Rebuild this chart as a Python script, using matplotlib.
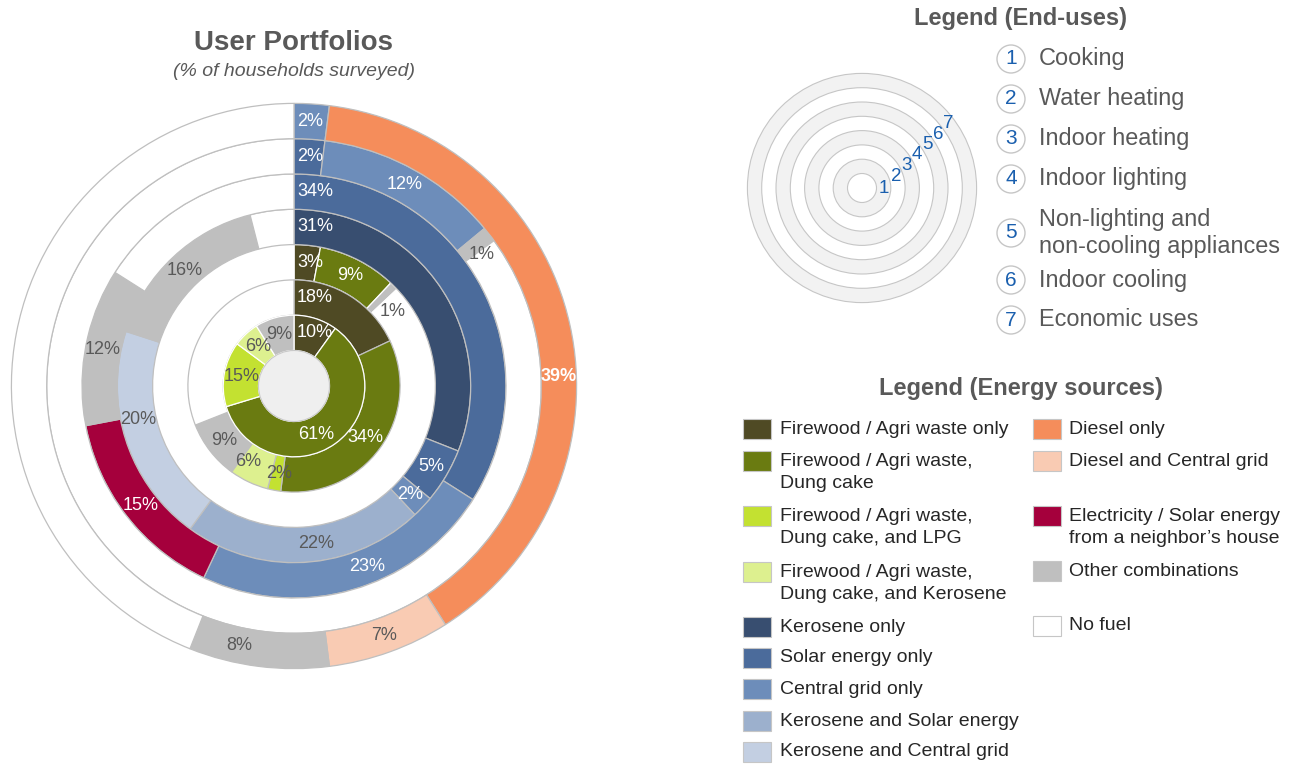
import numpy as np
import matplotlib
matplotlib.use("Agg")
import matplotlib.pyplot as plt
from matplotlib.patches import Circle, Rectangle

plt.rcParams['font.family'] = ['Liberation Sans', 'DejaVu Sans']

# ---------------- data ----------------
end_uses = ["Cooking", "Water heating", "Indoor heating", "Indoor lighting",
            "Non-lighting and\nnon-cooling appliances", "Indoor cooling", "Economic uses"]

sources = ["Firewood / Agri waste only",
           "Firewood / Agri waste,\nDung cake",
           "Firewood / Agri waste,\nDung cake, and LPG",
           "Firewood / Agri waste,\nDung cake, and Kerosene",
           "Kerosene only",
           "Solar energy only",
           "Central grid only",
           "Kerosene and Solar energy",
           "Kerosene and Central grid",
           "Diesel only",
           "Diesel and Central grid",
           "Electricity / Solar energy\nfrom a neighbor\u2019s house",
           "Other combinations",
           "No fuel"]

source_colors = ["#4f4a24", "#6a7b11", "#c3e131", "#ddf08f", "#384e70", "#4b6b9b",
                 "#6d8dba", "#9cb0cd", "#c3cfe2", "#f58d5b", "#f9cbb3", "#a5003c",
                 "#bfbfbf", "#ffffff"]

# rings, from the innermost (1 Cooking) to the outermost (7 Economic uses)
cooking_src = [0, 1, 2, 3, 12]
cooking_pct = [10, 61, 15, 6, 9]
water_src = [0, 1, 2, 3, 12, 13]
water_pct = [18, 34, 2, 6, 9, 31]
heating_src = [0, 1, 12, 13]
heating_pct = [3, 9, 1, 87]
lighting_src = [4, 5, 6, 7, 8, 12, 13]
lighting_pct = [31, 5, 2, 22, 20, 16, 4]
appliance_src = [5, 6, 11, 12, 13]
appliance_pct = [34, 23, 15, 12, 16]
cooling_src = [5, 6, 12, 13]
cooling_pct = [2, 12, 1, 85]
economic_src = [6, 9, 10, 12, 13]
economic_pct = [2, 39, 7, 8, 44]

rings = [(cooking_src, cooking_pct), (water_src, water_pct), (heating_src, heating_pct),
         (lighting_src, lighting_pct), (appliance_src, appliance_pct),
         (cooling_src, cooling_pct), (economic_src, economic_pct)]

# ---------------- style / layout ----------------
dark_sources = {0, 1, 4, 5, 6, 9, 11}
label_angle = {(0, 1): 155, (1, 2): 190, (1, 3): 211, (2, 2): 53, (3, 3): 172,
               (3, 4): 258, (4, 1): 158, (5, 2): 55, (6, 1): 88, (6, 3): 192}
bold_labels = {(6, 1)}

TXT = '#595959'
EDGE = '#bfbfbf'
BLUE = '#1a5fae'

W, H = 1292, 766
fig = plt.figure(figsize=(W / 100, H / 100), dpi=100)
ax = fig.add_axes([0, 0, 1, 1])


def Y(y):
    return H - y


cx, cy = 294, Y(386)
R0, RW = 35.5, 35.3

for k, (src, pct) in enumerate(rings):
    r_out = R0 + (k + 1) * RW
    cols = [source_colors[s] for s in src]
    ec = 'white' if k in (0, 2) else EDGE
    wedges, _ = ax.pie(pct, radius=r_out, center=(cx, cy), startangle=90,
                       counterclock=False, colors=cols,
                       wedgeprops=dict(width=RW, edgecolor=ec, linewidth=0.9))
    z = 3 if k == 0 else (1 if k == 2 else 2)
    for w in wedges:
        w.set_zorder(z)

# centre disk
ax.add_patch(Circle((cx, cy), R0, fc='#efefef', ec='#c9c9c9', lw=0.8, zorder=4))

# value labels
for k, (src, pct) in enumerate(rings):
    tot = float(sum(pct))
    r_mid = R0 + (k + 0.5) * RW
    start = 0
    for i, (s, v) in enumerate(zip(src, pct)):
        a0 = start / tot * 360
        a1 = (start + v) / tot * 360
        start += v
        if sources[s] == "No fuel":
            continue
        color = 'white' if s in dark_sources else TXT
        weight = 'bold' if (k, i) in bold_labels else 'normal'
        if a0 == 0:
            ax.text(cx + 3, cy + r_mid, f"{v}%", ha='left', va='center',
                    fontsize=13, color=color, weight=weight, zorder=6)
        else:
            ang = np.deg2rad(label_angle.get((k, i), (a0 + a1) / 2))
            ax.text(cx + r_mid * np.sin(ang), cy + r_mid * np.cos(ang), f"{v}%",
                    ha='center', va='center', fontsize=13, color=color,
                    weight=weight, zorder=6)

ax.set_xlim(0, W)
ax.set_ylim(0, H)
ax.set_aspect('equal')
ax.axis('off')

# titles
ax.text(294, Y(43), "User Portfolios", ha='center', va='center', fontsize=20,
        weight='bold', color=TXT)
ax.text(294, Y(71), "(% of households surveyed)", ha='center', va='center',
        fontsize=14, style='italic', color=TXT)

# ---------------- end-use legend ----------------
ax.text(1021, Y(18), "Legend (End-uses)", ha='center', va='center', fontsize=17,
        weight='bold', color=TXT)
lcx, lcy = 862, Y(188)
r_hole, r_step = 14.5, 14.3
for k in range(7, 0, -1):
    fc = '#f2f2f2' if k % 2 == 1 else 'white'
    ax.add_patch(Circle((lcx, lcy), r_hole + k * r_step, fc=fc, ec='#c6c6c6', lw=0.8))
ax.add_patch(Circle((lcx, lcy), r_hole, fc='white', ec='#c6c6c6', lw=0.8))
for k in range(1, 8):
    r = r_hole + (k - 0.5) * r_step
    xr = (44 + np.sqrt(44 ** 2 - 8 * (484 - r ** 2))) / 4
    yr = xr - 22
    ax.text(lcx + xr, lcy + yr, str(k), ha='center', va='center', fontsize=13.5,
            color=BLUE)

list_y = [59, 99, 139, 179, 233, 280, 320]
for i, (name, y) in enumerate(zip(end_uses, list_y)):
    ax.add_patch(Circle((1011, Y(y)), 14, fc='white', ec='#c6c6c6', lw=1))
    ax.text(1011, Y(y), str(i + 1), ha='center', va='center', fontsize=15, color=BLUE)
    ax.text(1039, Y(y), name, ha='left', va='center', fontsize=16.9, color=TXT,
            linespacing=1.25)

# ---------------- energy-source legend ----------------
ax.text(1021, Y(389), "Legend (Energy sources)", ha='center', va='center',
        fontsize=17, weight='bold', color=TXT)
left_y = [429, 461, 516, 572, 627, 658, 689, 721, 752]
right_y = [429, 461, 516, 571, 626]
entries = [(743, 780, y, i) for i, y in enumerate(left_y)] + \
          [(1033, 1069, y, i + len(left_y)) for i, y in enumerate(right_y)]
for sx, tx, y, i in entries:
    ax.add_patch(Rectangle((sx, Y(y) - 10), 28, 20, fc=source_colors[i],
                           ec='#c6c6c6', lw=0.8))
    nlines = sources[i].count('\n') + 1
    ax.text(tx, Y(y + (nlines - 1) * 11.5), sources[i], ha='left', va='center',
            fontsize=14, color='#262626', linespacing=1.38)

fig.savefig("out.png", dpi=100)
